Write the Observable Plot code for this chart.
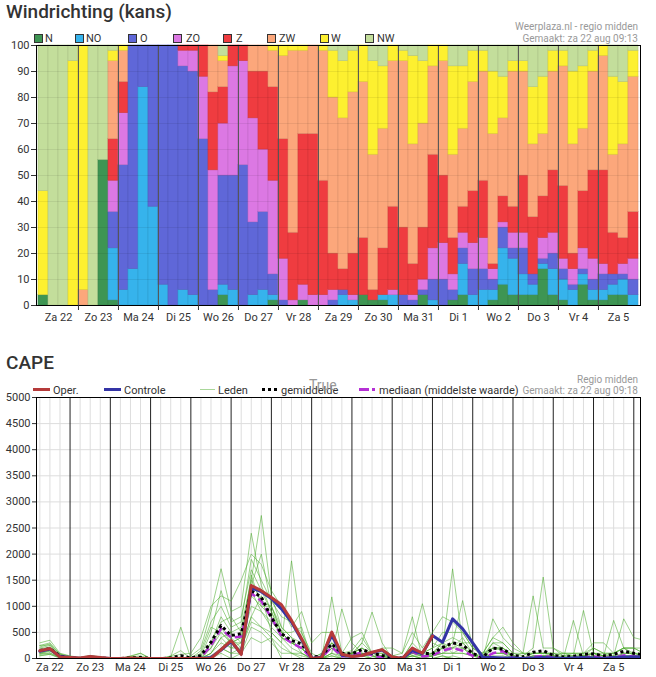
<!DOCTYPE html>
<html><head><meta charset="utf-8">
<script src="https://cdn.jsdelivr.net/npm/d3@7"></script>
<script src="https://cdn.jsdelivr.net/npm/@observablehq/plot@0.6"></script>
<style>
body{margin:0;background:#fff;font-family:Roboto,"Liberation Sans",sans-serif;}
#wrap{position:relative;width:656px;height:677px;overflow:hidden;}
#wrap svg{position:absolute;left:0;}
.abs{position:absolute;white-space:nowrap;z-index:2;}
.title{font-size:19px;font-weight:500;color:#333;left:6px;line-height:22px;}
.src{font-size:10px;color:#999;right:18px;text-align:right;line-height:12px;}
.leg{font-size:11px;color:#333;line-height:13px;}
.sq{position:absolute;width:7px;height:7px;border:1px solid #333;z-index:2;}
.sw{position:absolute;z-index:2;}
</style></head><body><div id="wrap"></div>
<script>
// ---------- data ----------
const days = ["Za 22","Zo 23","Ma 24","Di 25","Wo 26","Do 27","Vr 28","Za 29","Zo 30","Ma 31","Di 1","Wo 2","Do 3","Vr 4","Za 5"];
const dirs = ["N","NO","O","ZO","Z","ZW","W","NW"];
const dirColors = ["#3e9553","#36b3ec","#5f67d8","#dc78e3","#ef3c40","#fca77b","#fdf030","#c3de9b"];

const N  = [4,0,0,0,0,0,56,2,0,0, 0,0,0,0,0,0,0,0,4,0, 0,0,0,2,0,0,2,0,0,0, 0,0,4,2,2,0,0,0,4,0, 0,2,4,0,0,2,8,4,4,4, 14,4,2,0,8,2,2,4,4,0];
const NO = [0,0,0,0,0,0,0,20,6,14, 84,38,8,0,6,4,0,0,4,6, 0,4,6,2,0,0,0,0,0,0, 4,2,0,0,2,4,0,0,0,2, 0,0,12,4,6,4,14,14,8,4, 2,10,8,6,4,4,4,4,6,4];
const O  = [0,0,0,0,0,0,0,14,48,86, 16,62,92,100,86,86,64,6,42,44, 54,28,30,8,2,0,0,0,0,2, 2,0,0,0,0,0,4,2,2,8, 10,4,6,10,8,4,8,4,10,4, 2,6,4,2,2,4,6,4,2,6];
const ZO = [0,0,0,0,0,0,0,12,20,0, 0,0,0,0,6,8,24,46,20,42, 40,40,24,36,16,2,6,4,4,4, 0,2,0,0,0,2,0,2,4,12, 14,6,6,10,12,4,2,6,6,0, 8,8,4,6,8,8,4,0,4,8];
const Z  = [0,0,0,0,0,0,0,16,12,0, 0,0,0,0,2,2,12,30,14,8, 6,18,30,36,46,26,58,62,44,14, 8,16,22,4,18,32,26,12,20,36, 26,14,10,20,22,2,10,10,22,22, 16,24,28,6,22,34,36,16,10,18];
const ZW = [0,0,0,0,6,0,0,30,12,0, 0,0,0,0,0,0,0,18,10,0, 0,10,10,14,32,70,32,34,50,60, 58,62,60,52,46,56,64,46,40,34, 44,32,30,42,42,50,30,52,40,28, 24,38,46,42,24,38,44,30,36,52];
const W  = [40,0,0,94,94,0,0,4,2,0, 0,0,0,0,0,0,0,0,2,0, 0,0,0,2,4,2,2,0,2,18, 22,16,14,36,24,6,4,34,24,8, 6,34,24,12,8,24,16,4,4,22, 22,8,6,28,24,8,4,30,24,10];
const NW = [56,100,100,6,0,100,44,2,0,0, 0,0,0,0,0,0,0,0,4,0, 0,0,0,0,0,0,0,0,0,2, 6,2,0,6,8,0,2,4,6,0, 0,8,8,2,2,10,12,6,6,16, 12,2,2,10,8,2,0,12,14,2];

// CAPE (J/kg), 6-hourly from Za 22 06:00
const oper = [150,190,30,20,10,40,20,0,0,10, 0,0,0,0,0,0,0,0,170,345, 77,1398,1300,1170,1030,730,380,0,20,505, 80,38,57,120,170,30,0,200,100,430];
const controle = [140,180,40,20,0,30,10,0,0,0, 0,0,0,0,0,0,0,20,160,330, 90,1350,1280,1150,950,700,360,0,30,450, 60,40,60,110,160,20,0,150,90,440, 310,760,568,300,25,20,10,10,0,10, 20,10,0,10,20,10,0,20,30,30, 30];
const gemiddelde = [153,190,47,13,2,20,6,1,0,12, 18,0,0,9,55,10,60,313,632,440, 475,1300,1175,790,476,345,280,25,50,280, 100,90,170,100,57,25,12,170,95,95, 210,300,260,95,25,200,180,60,30,120, 150,60,30,40,80,90,50,80,140,100, 70];
const mediaan = [150,180,40,10,0,10,0,0,0,0, 0,0,0,0,0,0,20,250,570,400, 420,1250,1100,780,430,300,200,0,20,220, 40,60,120,60,20,0,0,130,40,60, 150,200,150,50,0,100,140,20,0,30, 50,20,0,10,20,40,10,20,60,40, 30];
const leden = [
[150,100,250,80,200,50,300,120,180,60,220,100,250,90,160,140],
[200,150,300,100,250,80,350,160,220,80,280,140,260,110,200,170],
[50,30,80,20,50,10,100,40,70,10,90,30,60,20,50,40],
[20,0,30,0,10,0,50,0,20,0,40,0,30,0,10,0],
[0,0,0,0,0,0,20,0,0,0,10,0,0,0,0,0],
[30,10,40,0,20,0,60,10,30,0,50,10,40,0,20,10],
[10,0,20,0,0,0,30,0,10,0,20,0,10,0,0,0],
[0,0,0,0,0,0,10,0,0,0,0,0,0,0,0,0],
[0,0,0,0,0,0,0,0,0,0,0,0,0,0,0,0],
[20,0,30,0,0,0,50,0,20,0,40,0,30,0,0,0],
[0,0,50,0,20,0,100,0,0,0,100,0,20,0,0,0],
[0,0,0,0,0,0,0,0,0,0,0,0,0,0,0,0],
[0,0,0,0,0,0,0,0,0,0,0,0,0,0,0,0],
[0,0,0,0,30,0,40,0,0,0,50,0,0,0,20,0],
[0,0,0,0,600,0,80,0,30,0,150,0,0,0,0,20],
[0,0,50,0,0,0,100,0,0,0,0,0,0,0,0,0],
[0,50,200,0,100,0,400,0,50,0,150,0,0,0,0,0],
[200,300,900,100,600,50,1000,200,500,0,700,100,300,0,100,0],
[600,800,1720,300,500,200,1200,500,1300,100,1000,400,700,200,400,200],
[300,500,900,200,300,100,1100,300,700,0,600,200,800,100,500,400],
[400,600,1000,200,300,100,1500,400,800,100,700,300,500,200,300,200],
[1400,1500,2400,800,1300,600,2000,1200,1700,400,1900,1000,1500,700,1600,800],
[2000,2740,1400,1200,900,500,1800,1000,1300,300,1500,900,1100,600,1000,600],
[1000,1200,900,500,600,300,1300,800,900,400,1100,700,1000,500,1000,400],
[500,600,400,300,400,100,1000,400,500,0,800,500,600,300,500,200],
[300,400,200,1870,300,100,600,300,500,0,700,300,400,100,300,100],
[200,100,100,500,200,0,900,200,600,0,500,200,300,50,200,100],
[0,0,0,100,0,0,300,0,0,0,0,0,0,0,0,0],
[0,50,0,0,0,0,500,0,100,0,100,0,0,0,50,0],
[200,300,100,100,1180,50,500,200,400,0,500,200,300,50,300,100],
[50,100,950,50,100,0,100,50,100,0,100,0,50,0,50,0],
[100,50,300,50,50,0,400,100,100,0,150,50,100,0,100,0],
[200,100,100,50,300,0,500,100,200,0,400,50,200,0,300,100],
[50,50,100,0,890,0,100,50,100,0,100,0,50,0,100,0],
[50,0,50,0,300,0,200,0,50,0,100,0,0,0,100,50],
[0,0,50,0,0,0,200,0,50,0,50,0,50,0,0,0],
[0,0,0,0,0,0,100,0,0,0,0,0,100,0,0,0],
[100,50,300,50,100,50,500,100,200,0,300,50,800,0,100,0],
[100,0,1050,50,50,0,200,50,100,0,100,0,0,0,50,0],
[100,50,300,50,50,0,500,100,200,0,200,50,100,0,100,0],
[200,100,200,100,200,0,800,200,300,0,500,100,300,50,300,50],
[300,100,1717,200,300,50,700,200,400,0,500,100,200,0,100,0],
[200,100,300,300,1110,0,500,200,300,0,500,100,400,0,200,0],
[100,50,300,100,200,0,200,50,100,0,200,50,100,0,50,0],
[0,0,50,0,50,0,100,0,0,0,100,0,0,0,100,0],
[200,100,300,760,200,0,400,100,300,0,400,100,200,0,200,50],
[200,100,300,400,150,0,600,100,200,0,300,100,200,0,200,50],
[50,0,100,200,50,0,300,50,0,0,100,0,50,0,50,0],
[0,0,50,100,0,0,100,0,0,0,100,0,0,0,100,0],
[100,50,200,100,50,0,1200,50,100,0,100,0,0,0,0,0],
[100,50,1560,100,50,0,200,50,100,0,100,0,0,0,50,0],
[100,50,200,50,50,0,200,50,100,0,100,0,0,0,50,0],
[50,0,50,0,0,0,100,0,0,0,100,0,50,0,100,0],
[50,0,100,50,0,0,100,0,730,0,100,0,0,0,50,0],
[50,0,100,920,0,0,100,0,50,0,50,0,100,0,50,0],
[100,50,200,100,100,0,300,50,100,0,200,50,100,0,100,0],
[50,0,100,50,50,0,300,0,0,0,100,0,100,0,50,0],
[100,50,100,730,50,0,100,0,50,0,100,0,0,0,0,0],
[200,50,200,200,760,0,200,50,100,0,200,50,100,0,100,50],
[100,50,200,50,400,0,200,50,100,0,200,50,100,0,100,0],
[100,50,200,50,350,0,100,50,50,0,100,0,50,0,50,0]
];

// ---------- build ----------
const wrap = document.getElementById("wrap");
const values = {N, NO, O, ZO, Z, ZW, W, NW};
const fillOf = Object.fromEntries(dirs.map((d, k) => [d, dirColors[k]]));
const strokeOf = Object.fromEntries(dirs.map((d, k) => [d, d3.color(dirColors[k]).darker(0.35).formatHex()]));
const bars = [];
for (let i = 0; i < 60; i++) for (const d of dirs) { const v = values[d][i]; if (v > 0) bars.push({i, dir: d, v}); }
const bw = (656 - 36 - 16) / 60;
const font = {fontFamily: "Roboto, 'Liberation Sans', sans-serif", fontSize: "11px", color: "#333", background: "transparent", overflow: "visible"};

const wind = Plot.plot({
  width: 656, height: 330, marginTop: 45, marginBottom: 25, marginLeft: 36, marginRight: 16,
  style: font,
  x: {type: "band", domain: d3.range(60), padding: 0, label: null},
  y: {domain: [0, 100], label: null},
  color: {type: "identity"},
  marks: [
    Plot.barY(bars, {x: "i", y: "v", fill: d => fillOf[d.dir], stroke: d => strokeOf[d.dir], strokeWidth: 0.6}),
    Plot.ruleY(d3.range(10, 100, 10), {stroke: "#000", strokeOpacity: 0.07}),
    Plot.ruleX(d3.range(4, 60, 4), {stroke: "#555", dx: -bw / 2}),
    Plot.frame({stroke: "#000"}),
    Plot.axisY({ticks: d3.range(0, 101, 10), tickSize: 5, tickPadding: 2, label: null, tickFormat: d => String(d)}),
    Plot.axisX({ticks: d3.range(4, 60, 4), tickSize: 5, tickFormat: () => "", dx: -bw / 2, label: null}),
    Plot.axisX({ticks: d3.range(1, 60, 4), tickSize: 0, tickPadding: 8, dx: bw / 2, label: null, tickFormat: i => days[(i - 1) / 4]})
  ]
});
wind.style.top = "0px";
wrap.appendChild(wind);

const hours = d3.range(61).map(j => 6 + 6 * j);
const memberRows = [];
leden.forEach((row, j) => row.forEach((v, m) => memberRows.push({h: hours[j], v, m})));
const ser = arr => arr.map((v, j) => ({h: hours[j], v}));

const cape = Plot.plot({
  width: 656, height: 337, marginTop: 57, marginBottom: 19, marginLeft: 36, marginRight: 16,
  style: font,
  x: {domain: [4, 364], label: null},
  y: {domain: [0, 5000], label: null},
  marks: [
    Plot.ruleY(d3.range(500, 5000, 500), {stroke: "#ddd"}),
    Plot.ruleX(d3.range(6, 364, 6).filter(h => h % 24 !== 0), {stroke: "#ddd"}),
    Plot.ruleX(d3.range(24, 364, 24), {stroke: "#222"}),
    Plot.line(memberRows, {x: "h", y: "v", z: "m", stroke: "#4aab2c", strokeOpacity: 0.55, strokeWidth: 1, clip: true}),
    Plot.line(ser(mediaan), {x: "h", y: "v", stroke: "#b530d5", strokeWidth: 2.5, strokeDasharray: "8,4", strokeLinecap: "butt", clip: true}),
    Plot.line(ser(gemiddelde), {x: "h", y: "v", stroke: "#000", strokeWidth: 3, strokeDasharray: "3,3", strokeLinecap: "butt", clip: true}),
    Plot.line(ser(controle), {x: "h", y: "v", stroke: "#3434a6", strokeWidth: 3, clip: true}),
    Plot.line(ser(oper), {x: "h", y: "v", stroke: "#b53a3a", strokeWidth: 3, clip: true}),
    Plot.frame({stroke: "#000"}),
    Plot.axisY({ticks: d3.range(0, 5001, 500), tickSize: 4, tickPadding: 2, label: null, tickFormat: d => String(d)}),
    Plot.axisX({ticks: days.map((d, k) => 12 + 24 * k), tickSize: 0, tickPadding: 5, label: null, tickFormat: h => days[(h - 12) / 24]})
  ]
});
cape.style.top = "340px";
wrap.appendChild(cape);

// ---------- titles & legends ----------
function add(cls, text, css) { const e = document.createElement("div"); e.className = cls; e.textContent = text; Object.assign(e.style, css); wrap.appendChild(e); return e; }
add("abs title", "Windrichting (kans)", {top: "1px"});
add("abs src", "Weerplaza.nl - regio midden", {top: "21px"});
add("abs src", "Gemaakt: za 22 aug 09:13", {top: "33px"});
const sqX = [34, 75, 128, 173, 223, 267, 320, 365];
const txX = [45, 86, 140, 186, 236, 279, 331, 377];
dirs.forEach((d, k) => {
  const s = document.createElement("div"); s.className = "sq";
  Object.assign(s.style, {left: sqX[k] + "px", top: "34px", background: dirColors[k]}); wrap.appendChild(s);
  add("abs leg", d, {left: txX[k] + "px", top: "32px"});
});

add("abs title", "CAPE", {top: "352px"});
add("abs src", "Regio midden", {top: "374px"});
add("abs src", "Gemaakt: za 22 aug 09:18", {top: "385px"});
function swatch(x, w, css) { const s = document.createElement("div"); s.className = "sw"; Object.assign(s.style, {left: x + "px", width: w + "px"}, css); wrap.appendChild(s); }
swatch(33, 17, {top: "388px", height: "3px", background: "#b53a3a"});
add("abs leg", "Oper.", {left: "53px", top: "384px"});
swatch(104, 17, {top: "388px", height: "3px", background: "#3434a6"});
add("abs leg", "Controle", {left: "124px", top: "384px"});
swatch(200, 15, {top: "389px", height: "1px", background: "#a9d79a"});
add("abs leg", "Leden", {left: "218px", top: "384px"});
swatch(262, 15, {top: "388px", height: "0px", borderTop: "3px dotted #000"});
add("abs leg", "gemiddelde", {left: "281px", top: "384px"});
add("abs", "True", {left: "309px", top: "377px", fontSize: "14px", color: "#999", lineHeight: "16px"});
swatch(359, 10, {top: "388px", height: "3px", background: "#b530d5"});
swatch(372, 3, {top: "388px", height: "3px", background: "#b530d5"});
add("abs leg", "mediaan (middelste waarde)", {left: "379px", top: "384px"});
</script></body></html>
